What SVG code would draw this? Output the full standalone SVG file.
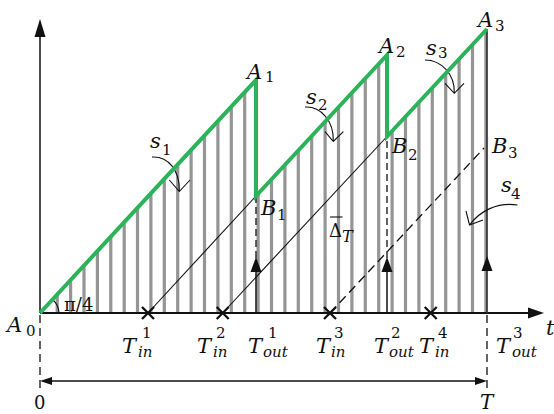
<svg xmlns="http://www.w3.org/2000/svg" width="554" height="414" viewBox="0 0 554 414">
<style>
.ax{stroke:#111;fill:none}
.hatch{stroke:#959595;stroke-width:3.2}
.saw{stroke:#2bb35a;stroke-width:4;fill:none;stroke-linejoin:miter}
.thin{stroke:#111;stroke-width:1.1;fill:none}
.dash{stroke:#111;stroke-width:1.3;fill:none;stroke-dasharray:7,4}
.cross{stroke:#111;stroke-width:2.3}
.head{fill:#111;stroke:none}
.lbl{font-family:"DejaVu Serif","Liberation Serif",serif;font-style:italic;fill:#111}
.up{font-family:"DejaVu Serif","Liberation Serif",serif;fill:#111}
.big{font-size:21px}
.sm{font-size:15px}
</style>
<defs>
<clipPath id="area"><polygon points="40,313 256,80 256,196 387,55 387,136.5 487,29 487,313"/></clipPath>
</defs>
<rect width="554" height="414" fill="#fff"/>
<g id="hatching" clip-path="url(#area)">
<path class="hatch" d="M57.2,20V313M70.6,20V313M84,20V313M97.4,20V313M110.8,20V313M124.2,20V313M137.5,20V313M150.9,20V313M164.3,20V313M177.7,20V313M191.1,20V313M204.5,20V313M217.9,20V313M231.3,20V313M244.7,20V313M258.1,20V313M271.5,20V313M284.9,20V313M298.3,20V313M311.7,20V313M325.1,20V313M338.5,20V313M351.9,20V313M365.3,20V313M378.7,20V313M392.1,20V313M405.5,20V313M418.9,20V313M432.3,20V313M445.7,20V313M459.1,20V313M472.5,20V313M485.9,20V313"/>
</g>
<g id="axes">
<line class="ax" x1="40" y1="313" x2="40" y2="34" stroke-width="1.5"/>
<polygon class="head" points="40,19 34.5,37 45.5,37"/>
<line class="ax" x1="40" y1="313" x2="530" y2="313" stroke-width="2.2"/>
<polygon class="head" points="544,313 528,307.5 528,318.5"/>
<line class="dash" x1="40" y1="315" x2="40" y2="393" style="stroke-dasharray:8,5"/>
<line class="dash" x1="487" y1="315" x2="487" y2="391" style="stroke-dasharray:8,5"/>
<line class="ax" x1="48" y1="381" x2="479" y2="381" stroke-width="1.3"/>
<polygon class="head" points="40,381 52,377 52,385"/>
<polygon class="head" points="487,381 475,377 475,385"/>
</g>
<g id="connectors">
<line class="thin" x1="148" y1="313" x2="256" y2="196"/>
<line class="thin" x1="222.7" y1="313" x2="387" y2="136.5"/>
<line class="dash" x1="330" y1="313" x2="484" y2="148" style="stroke-dasharray:9,5"/>
<line class="ax" x1="256" y1="313" x2="256" y2="266" stroke-width="1.5"/>
<line class="dash" x1="256" y1="258" x2="256" y2="198"/>
<polygon class="head" points="256,257 250.5,272 261.5,272"/>
<line class="ax" x1="387" y1="313" x2="387" y2="266" stroke-width="1.5"/>
<line class="dash" x1="387" y1="258" x2="387" y2="139"/>
<polygon class="head" points="387,257 381.5,272 392.5,272"/>
<line x1="487" y1="313" x2="487" y2="29" stroke="#333" stroke-width="1.7"/>
<polygon class="head" points="487,256 481.5,271 492.5,271"/>
<path class="thin" d="M52.5,299.5 A19,19 0 0 1 59,313" stroke-width="1.6"/>
<path class="thin" d="M152,157 C168,156 180,170 179.3,191.5 M169.3,180 L179.3,191.5 L190,180"/>
<path class="thin" d="M305,107 C320,106 334,120 333.3,141.5 M325,131.7 L333.3,141.5 L343.3,131.7"/>
<path class="thin" d="M425,60 C441,60 455,74 454.3,93 M445,83.3 L454.3,93.3 L464,83.3"/>
<path class="thin" d="M517.5,205 C497,202 480,211 469.5,225 M466,211 L469.5,225 L483,220"/>
</g>
<g id="sawtooth">
<polyline class="saw" points="40,313 256,80 256,196 387,55 387,136.5 487,29"/>
</g>
<g id="markers">
<path class="cross" d="M142,307L154,319M154,307L142,319"/>
<path class="cross" d="M216.7,307L228.7,319M228.7,307L216.7,319"/>
<path class="cross" d="M324,307L336,319M336,307L324,319"/>
<path class="cross" d="M424.7,307L436.7,319M436.7,307L424.7,319"/>
</g>
<g id="A0"><text class="lbl big" x="7" y="332">A</text><text class="up sm" x="26" y="336">0</text></g>
<g id="A1"><text class="lbl big" x="247" y="79">A</text><text class="up sm" x="265" y="82">1</text></g>
<g id="A2"><text class="lbl big" x="379" y="53">A</text><text class="up sm" x="396" y="57">2</text></g>
<g id="A3"><text class="lbl big" x="478" y="27">A</text><text class="up sm" x="495" y="31">3</text></g>
<g id="B1"><text class="lbl big" x="261" y="215">B</text><text class="up sm" x="277" y="220">1</text></g>
<g id="B2"><text class="lbl big" x="392" y="153">B</text><text class="up sm" x="408" y="160">2</text></g>
<g id="B3"><text class="lbl big" x="492" y="153">B</text><text class="up sm" x="508" y="158">3</text></g>
<g id="s1"><text class="lbl big" x="150" y="148">s</text><text class="up sm" x="162" y="155">1</text></g>
<g id="s2"><text class="lbl big" x="306" y="104">s</text><text class="up sm" x="318" y="110">2</text></g>
<g id="s3"><text class="lbl big" x="426" y="55">s</text><text class="up sm" x="438" y="58">3</text></g>
<g id="s4"><text class="lbl big" x="501" y="192">s</text><text class="up sm" x="511" y="199">4</text></g>
<g id="DeltaT"><text class="up" font-size="18" x="329" y="237">Δ</text><line x1="330" y1="217" x2="342.5" y2="217" stroke="#111" stroke-width="1.1"/><text class="lbl" font-size="16" x="342" y="242">T</text></g>
<g id="angle"><text class="up" font-size="18" x="64" y="311">π/4</text></g>
<g id="Tin1"><text class="lbl big" x="122" y="353">T</text><text class="up sm" x="142" y="338">1</text><text class="lbl sm" x="138" y="357">in</text></g>
<g id="Tin2"><text class="lbl big" x="197" y="353">T</text><text class="up sm" x="216" y="338">2</text><text class="lbl sm" x="213" y="357">in</text></g>
<g id="Tout1"><text class="lbl big" x="248" y="353">T</text><text class="up sm" x="268" y="338">1</text><text class="lbl sm" x="263" y="357">out</text></g>
<g id="Tin3"><text class="lbl big" x="316" y="353">T</text><text class="up sm" x="334" y="338">3</text><text class="lbl sm" x="331" y="357">in</text></g>
<g id="Tout2"><text class="lbl big" x="374" y="353">T</text><text class="up sm" x="391" y="338">2</text><text class="lbl sm" x="389" y="357">out</text></g>
<g id="Tin4"><text class="lbl big" x="419" y="353">T</text><text class="up sm" x="438" y="338">4</text><text class="lbl sm" x="435" y="357">in</text></g>
<g id="Tout3"><text class="lbl big" x="496" y="353">T</text><text class="up sm" x="513" y="338">3</text><text class="lbl sm" x="512" y="357">out</text></g>
<g id="t"><text class="lbl big" x="546" y="335">t</text></g>
<g id="zero"><text class="up" font-size="18" x="34" y="409">0</text></g>
<g id="Tend"><text class="lbl" font-size="20" x="480" y="409">T</text></g>
</svg>
